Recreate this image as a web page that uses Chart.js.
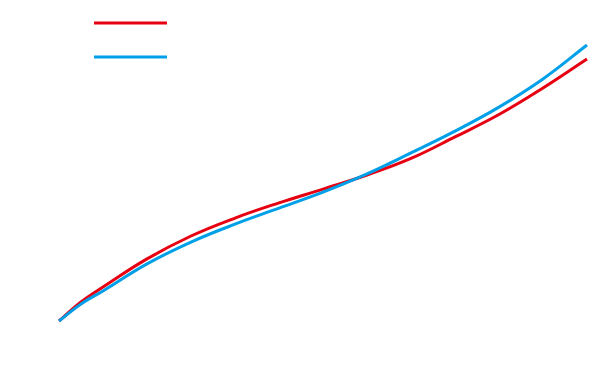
<!DOCTYPE html>
<html>
<head>
<meta charset="utf-8">
<script src="https://cdn.jsdelivr.net/npm/chart.js@4/dist/chart.umd.min.js"></script>
<style>
  html, body { margin: 0; padding: 0; background: #fff; }
  #wrap { width: 600px; height: 383px; }
</style>
</head>
<body>
<div id="wrap"><canvas id="lineChart" width="600" height="383"></canvas></div>
<script>
// values (x steps 0..12, y on a 0..100 scale)
const xValues = [0, 0.5, 1, 2, 3, 4, 5, 6, 7, 8, 9, 10, 11, 12];
const redValues = [0, 6.9, 12.3, 22.5, 30.8, 37.3, 42.8, 47.8, 52.9, 58.9, 66.7, 74.8, 84.4, 94.9];
const blueValues = [0, 6.2, 10.9, 20.7, 28.6, 35.1, 40.9, 46.7, 53.3, 60.9, 68.8, 77.5, 87.7, 100];

const RED = "#E60012";
const BLUE = "#00A0E9";

const toPoints = (ys) => xValues.map((x, i) => ({ x: x, y: ys[i] }));

// legend: just the two coloured lines, no text
const lineLegend = {
  id: "lineLegend",
  afterDraw(chart) {
    const ctx = chart.ctx;
    const items = [RED, BLUE];
    ctx.save();
    ctx.lineWidth = 3;
    items.forEach((c, i) => {
      const y = 23 + i * 34;
      ctx.strokeStyle = c;
      ctx.beginPath();
      ctx.moveTo(94, y);
      ctx.lineTo(167, y);
      ctx.stroke();
    });
    ctx.restore();
  },
};

new Chart(document.getElementById("lineChart"), {
  type: "line",
  data: {
    datasets: [
      {
        data: toPoints(redValues),
        borderColor: RED,
        borderWidth: 3,
        pointRadius: 0,
        tension: 0.4,
        order: 1,
        clip: false,
      },
      {
        data: toPoints(blueValues),
        borderColor: BLUE,
        borderWidth: 3,
        pointRadius: 0,
        tension: 0.4,
        order: 0,
        clip: false,
      },
    ],
  },
  options: {
    responsive: false,
    animation: false,
    layout: { padding: { left: 59, right: 13, top: 45, bottom: 62 } },
    scales: {
      x: { type: "linear", min: 0, max: 12, display: false },
      y: { min: 0, max: 100, display: false },
    },
    plugins: {
      legend: { display: false },
      tooltip: { enabled: false },
    },
  },
  plugins: [lineLegend],
});
</script>
</body>
</html>
